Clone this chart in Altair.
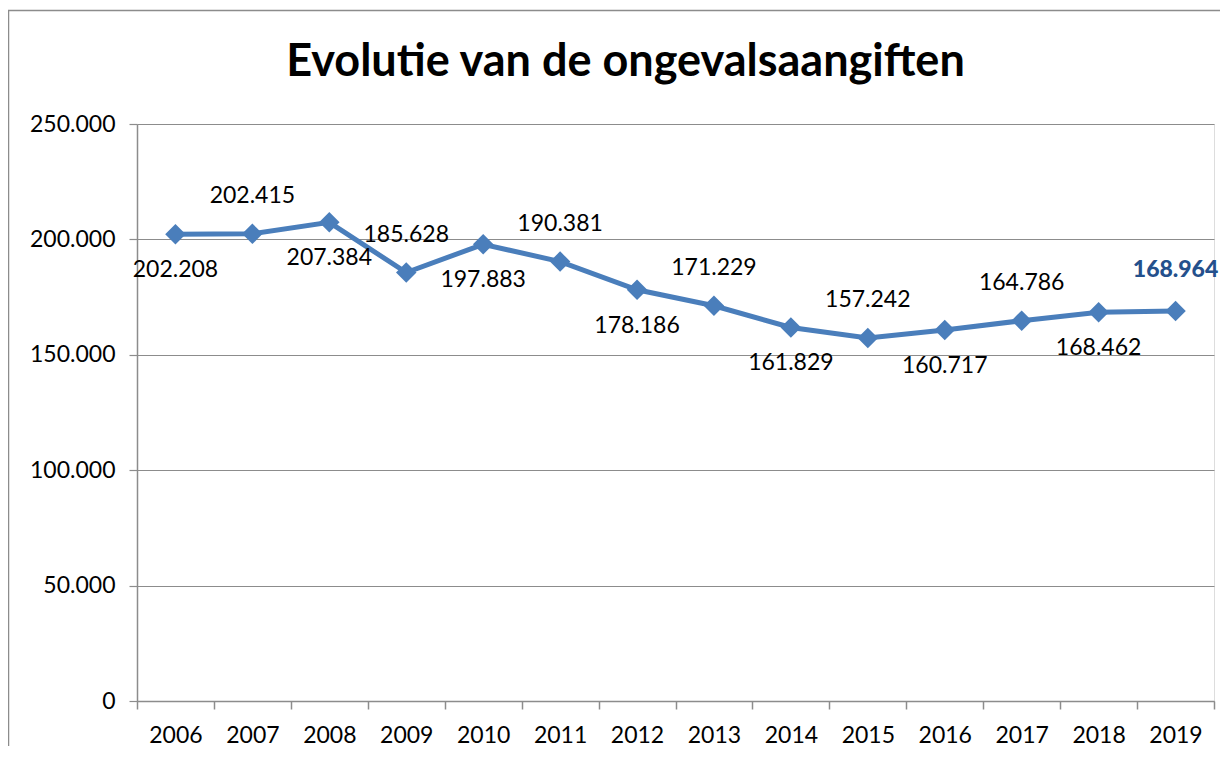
import altair as alt
import pandas as pd

# ---- data ----
years = [2006, 2007, 2008, 2009, 2010, 2011, 2012, 2013, 2014, 2015, 2016, 2017, 2018, 2019]
values = [202208, 202415, 207384, 185628, 197883, 190381, 178186,
          171229, 161829, 157242, 160717, 164786, 168462, 168964]
y_ticks = [0, 50000, 100000, 150000, 200000, 250000]
title_text = "Evolutie van de ongevalsaangiften"

df = pd.DataFrame({
    "jaar": [str(y) for y in years],
    "jaarnr": years,
    "aangiften": values,
    "label": [f"{v:,}".replace(",", ".") for v in values],
})

FONT = "Lato"
LINE = "#4A7EBB"
GRID = "#8C8C8C"
LAST = "#24508C"

x_enc = alt.X(
    "jaar:O",
    bandPosition=0.5,
    scale=alt.Scale(type="band", paddingInner=0, paddingOuter=0),
    axis=alt.Axis(
        title=None, labelAngle=0, tickBand="extent",
        domainColor=GRID, domainWidth=1.5, tickColor=GRID, tickWidth=1.5, tickSize=8,
        labelFont=FONT, labelFontSize=23, labelColor="black", labelPadding=15,
    ),
)
y_enc = alt.Y(
    "aangiften:Q",
    scale=alt.Scale(domain=[0, 250000], nice=False, zero=True),
    axis=alt.Axis(
        title=None, values=y_ticks,
        labelExpr="replace(format(datum.value, ','), ',', '.')",
        grid=True, gridColor=GRID, gridWidth=1.2,
        domainColor=GRID, domainWidth=1.5, tickColor=GRID, tickWidth=1.2, tickSize=8,
        labelFont=FONT, labelFontSize=23, labelColor="black", labelPadding=14,
    ),
)

base = alt.Chart(df).encode(x=x_enc, y=y_enc)

line = base.mark_line(color=LINE, strokeWidth=5)
pts = base.mark_point(shape="diamond", filled=True, size=420, color=LINE, opacity=1)

txt_props = dict(font=FONT, fontSize=23, color="black", align="center")
below = base.transform_filter("datum.jaarnr % 2 == 0").mark_text(
    baseline="middle", dy=36, **txt_props).encode(text="label:N")
above = base.transform_filter("datum.jaarnr % 2 == 1 && datum.jaarnr != 2019").mark_text(
    baseline="middle", dy=-38, **txt_props).encode(text="label:N")
last = base.transform_filter("datum.jaarnr == 2019").mark_text(
    baseline="middle", dy=-41, font=FONT, fontSize=23, fontWeight=900,
    color=LAST, align="center").encode(text="label:N")

frame = alt.Chart(alt.Data(values=[{}])).mark_rect(
    fillOpacity=0, stroke=GRID, strokeWidth=1.5
).encode(
    x=alt.value(-128.5), x2=alt.value(1300),
    y=alt.value(-113.5), y2=alt.value(900),
)

chart = alt.layer(frame, line, pts, below, above, last).properties(
    width=1077,
    height=577,
    autosize=alt.AutoSizeParams(type="none"),
    padding={"left": 129, "top": 116, "right": 6, "bottom": 45},
    title=alt.TitleParams(
        title_text, font=FONT, fontSize=45, fontWeight="bold", color="black",
        anchor="middle", frame="group", baseline="alphabetic", dx=-50, offset=-111,
    ),
).configure_view(stroke=None).configure(background="white")

chart.save("out.html", embed_options={"renderer": "svg", "actions": False})
